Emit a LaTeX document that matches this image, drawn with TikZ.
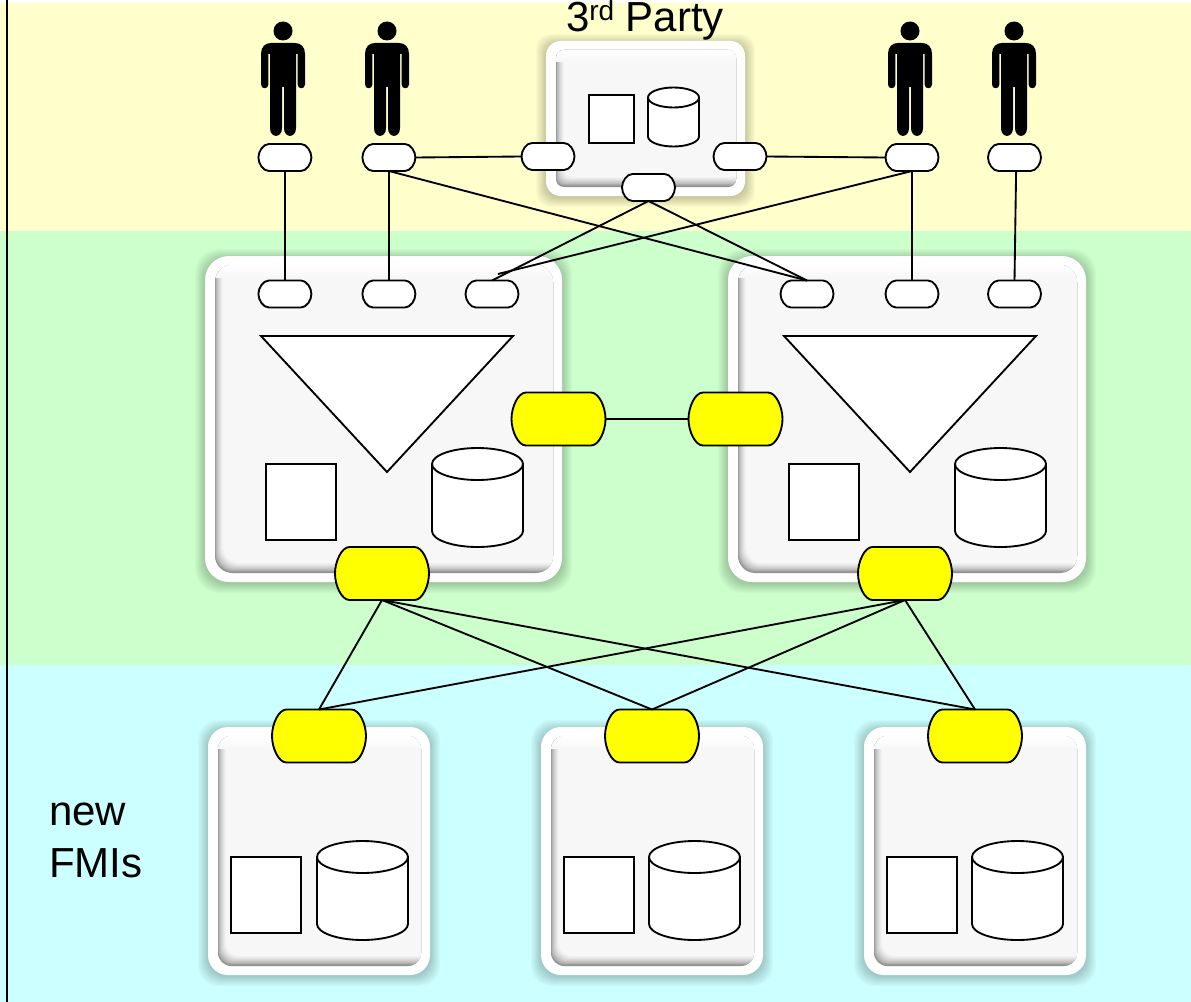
\documentclass[tikz,border=0pt]{standalone}
\usepackage{fontspec}
\setmainfont{Liberation Sans}
\definecolor{bandY}{HTML}{FFFFCC}
\definecolor{bandG}{HTML}{CCFFCC}
\definecolor{bandC}{HTML}{CCFFFF}
\definecolor{face}{HTML}{F7F7F7}
\definecolor{plug}{HTML}{FFFF00}
\tikzset{
  ln/.style={line width=1.4pt,black},
  pinpoint/.style={inner sep=0pt,outer sep=0pt,rectangle},
  box/.style={draw=black,line width=1.4pt,fill=white,line join=miter},
  label/.style={font=\fontsize{31.5}{39}\selectfont,inner sep=0pt,outer sep=0pt},
  person/.pic={
    \fill[black] (0,31) circle[radius=9.5];
    \fill[black] (-12,43) -- (12,43) .. controls (18,43) and (22,47) .. (22,54) -- (22,84.5)
      .. controls (22,89.5) and (14.6,89.5) .. (14.6,84.5) -- (14.6,54) -- (13,54) -- (13,128)
      .. controls (13,138.5) and (1,138.5) .. (1,128) -- (1,87) -- (-1,87) -- (-1,128)
      .. controls (-1,138.5) and (-13,138.5) .. (-13,128) -- (-13,54) -- (-14.6,54) -- (-14.6,84.5)
      .. controls (-14.6,89.5) and (-22,89.5) .. (-22,84.5) -- (-22,54) .. controls (-22,47) and (-18,43) .. (-12,43) -- cycle;
  }
}
% name, x1, y1, x2, y2, outer radius in pt
\newcommand{\panelbox}[6]{%
  \foreach \i in {1,...,9}{
    \pgfmathsetmacro{\g}{\i*1.1}
    \fill[black,fill opacity=.024,rounded corners=#6pt] (#2-\g,#3-\g+3) rectangle (#4+\g,#5+\g+1);
  }
  \fill[white,rounded corners=#6pt] (#2,#3) rectangle (#4,#5);
  \pgfmathsetmacro{\rr}{max(#6-5,5)}
  \begin{scope}
    \clip[rounded corners=\rr pt] (#2+10,#3+9) rectangle (#4-9,#5-9);
    \fill[face] (#2,#3) rectangle (#4,#5);
    \foreach \li/\bi/\c in {0/0/42,0.2/0.8/38,0.5/1.6/33,1/2.4/28,1.7/3.2/24,2.4/4/20,3.2/5/16,4/6/12,5/7/8,6/8/5,7/9/2,8/10/0}{
      \fill[black!\c!face,rounded corners=\rr pt] (#2+10+\li,#3-30) rectangle (#4+30,#5-9-\bi);
    }
    \shade[top color=white,bottom color=face] (#2,#3+9) rectangle (#4,#3+21);
  \end{scope}
  \coordinate (#1) at ({(#2+#4)/2},{(#3+#5)/2});
}
% name, cx, top, bottom, half width, cap half height
\newcommand{\drumshape}[6]{%
  \pgfmathsetmacro{\xl}{#2-#5}\pgfmathsetmacro{\xr}{#2+#5}
  \pgfmathsetmacro{\ym}{#3+#6}\pgfmathsetmacro{\ye}{#3+2*#6}
  \pgfmathsetmacro{\yb}{#4-#6}
  \pgfmathsetmacro{\kx}{#5*.55}\pgfmathsetmacro{\ky}{#6*.55}
  \draw[box] (\xl,\ym) .. controls (\xl,\ym-\ky) and (#2-\kx,#3) .. (#2,#3)
     .. controls (#2+\kx,#3) and (\xr,\ym-\ky) .. (\xr,\ym)
     -- (\xr,\yb) .. controls (\xr,\yb+\ky) and (#2+\kx,#4) .. (#2,#4)
     .. controls (#2-\kx,#4) and (\xl,\yb+\ky) .. (\xl,\yb) -- cycle;
  \draw[ln] (\xl,\ym) .. controls (\xl,\ym+\ky) and (#2-\kx,\ye) .. (#2,\ye)
     .. controls (#2+\kx,\ye) and (\xr,\ym+\ky) .. (\xr,\ym);
  \coordinate (#1) at (#2,{(#3+#4)/2});
}
% name, cx, cy, width, height, corner bulge, fill
\newcommand{\pillshape}[7]{%
  \pgfmathsetmacro{\xl}{#2-#4/2}\pgfmathsetmacro{\xr}{#2+#4/2}
  \pgfmathsetmacro{\yt}{#3-#5/2}\pgfmathsetmacro{\yb}{#3+#5/2}
  \pgfmathsetmacro{\kx}{#6*.45}\pgfmathsetmacro{\ky}{#5/2*.45}
  \draw[box,fill=#7] (\xl+#6,\yt) -- (\xr-#6,\yt)
     .. controls (\xr-\kx,\yt) and (\xr,#3-\ky) .. (\xr,#3)
     .. controls (\xr,#3+\ky) and (\xr-\kx,\yb) .. (\xr-#6,\yb)
     -- (\xl+#6,\yb)
     .. controls (\xl+\kx,\yb) and (\xl,#3+\ky) .. (\xl,#3)
     .. controls (\xl,#3-\ky) and (\xl+\kx,\yt) .. (\xl+#6,\yt) -- cycle;
  \node[pinpoint,minimum width=#4*.75pt,minimum height=#5*.75pt] (#1) at (#2,#3) {};
}
\newcommand{\pillS}[3]{\pillshape{#1}{#2}{#3}{53}{27}{10.5}{white}}
\newcommand{\pillB}[3]{\pillshape{#1}{#2}{#3}{94}{53}{14.5}{plug}}
\begin{document}
\begin{tikzpicture}[x=0.75pt,y=-0.75pt]
\useasboundingbox (0,0) rectangle (1191,1002);
\fill[white] (0,0) rectangle (1191,1002);
\fill[bandY] (0,3) rectangle (1191,231);
\fill[bandG] (0,231) rectangle (1191,665);
\fill[bandC] (0,665) rectangle (1191,1002);
\coordinate (railT) at (7,0);
\coordinate (railB) at (7,1002);
\draw[line width=1.5pt,black] (railT) -- (railB);

\panelbox{tp}{546}{41}{745}{196}{11}
\panelbox{pL}{205}{256}{562}{582}{18}
\panelbox{pR}{728}{256}{1086}{582}{18}
\panelbox{f1}{208}{727}{430}{975}{15}
\panelbox{f2}{541}{727}{763}{975}{15}
\panelbox{f3}{864}{727}{1086}{975}{15}

\node[label,anchor=base] (tptext) at (645,32) {3\raisebox{8.25pt}{\fontsize{21}{21}\selectfont rd} Party};
\node[label,anchor=north west,align=left] (fmi) at (49,803) {new\\FMIs};

\pic (m1) at (283,0) {person};
\pic (m2) at (387,0) {person};
\pic (m3) at (910,0) {person};
\pic (m4) at (1014,0) {person};

% third party contents
\draw[box] (589,95) rectangle (634,143);
\drumshape{tpd}{673.5}{87.5}{146.5}{25.5}{10}
% triangles
\draw[box] (261,336) -- (513,336) -- (387,472) -- cycle;
\draw[box] (784,336) -- (1036,336) -- (910,472) -- cycle;
\draw[box] (266,464) rectangle (336,540);
\draw[box] (789,464) rectangle (859,540);
\drumshape{dL}{477.5}{448}{547}{45.5}{16}
\drumshape{dR}{1000.5}{448}{547}{45.5}{16}
% FMI contents
\draw[box] (231,857) rectangle (301,933);
\draw[box] (564,857) rectangle (634,933);
\draw[box] (887,857) rectangle (957,933);
\drumshape{d1}{362.5}{841}{940}{45.5}{16}
\drumshape{d2}{694.5}{841}{940}{45.5}{16}
\drumshape{d3}{1017.5}{841}{940}{45.5}{16}

% pills
\pillS{a1}{284.9}{157.5}
\pillS{a2}{388.9}{157.5}
\pillS{a3}{548}{156.5}
\pillS{a4}{740}{156.5}
\pillS{a5}{912}{157.5}
\pillS{a6}{1014.5}{157.5}
\pillS{a7}{648.5}{187.5}
\pillS{b1}{284.9}{294}
\pillS{b2}{388.9}{294}
\pillS{b3}{492}{294}
\pillS{b4}{807}{294}
\pillS{b5}{912}{294}
\pillS{b6}{1014.5}{294}
\pillB{c1}{558.5}{419}
\pillB{c2}{735.5}{419}
\pillB{c3}{382}{573.5}
\pillB{c4}{905}{573.5}
\pillB{e1}{319}{736}
\pillB{e2}{652}{736}
\pillB{e3}{975}{736}

% connectors
\coordinate (stub) at (498,274);
\draw[ln] (a1.south) -- (b1.north);
\draw[ln] (a2.south) -- (b2.north);
\draw[ln] (a5.south) -- (b5.north);
\draw[ln] ([xshift=1.2pt]a6.south) -- (b6.north);
\draw[ln] (a2.east) -- (a3.west);
\draw[ln] (a4.east) -- (a5.west);
\draw[ln] (a2.south) -- (b4.north);
\draw[ln] (a5.south) -- (stub);
\draw[ln] (a7.south) -- (b3.north);
\draw[ln] (a7.south) -- (b4.north);
\draw[ln] (c1.east) -- (c2.west);
\draw[ln] (c3.south) -- (e1.north);
\draw[ln] (c3.south) -- (e2.north);
\draw[ln] (c3.south) -- (e3.north);
\draw[ln] (c4.south) -- (e1.north);
\draw[ln] (c4.south) -- (e2.north);
\draw[ln] (c4.south) -- (e3.north);
\end{tikzpicture}
\end{document}
